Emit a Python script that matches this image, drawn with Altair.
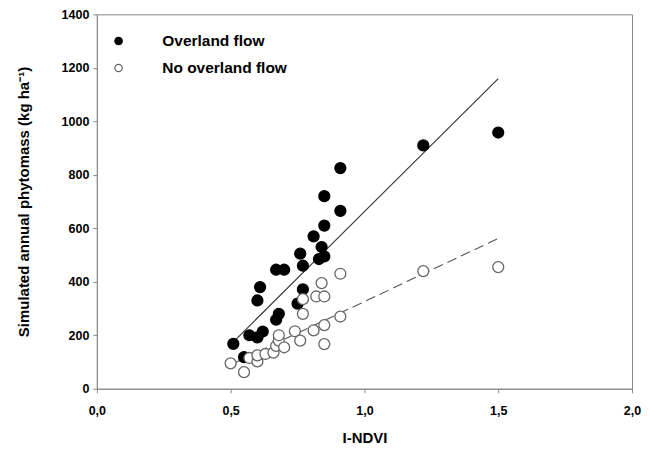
import altair as alt
import pandas as pd

over_x = [0.51, 0.55, 0.57, 0.60, 0.62, 0.60, 0.61, 0.67, 0.68, 0.67, 0.70, 0.75, 0.77,
          0.77, 0.76, 0.81, 0.83, 0.85, 0.84, 0.85, 0.85, 0.91, 0.91, 1.22, 1.50]
over_y = [168, 118, 200, 192, 214, 330, 380, 258, 280, 445, 445, 318, 372,
          460, 505, 570, 485, 495, 530, 610, 720, 665, 825, 910, 958]

none_x = [0.50, 0.55, 0.57, 0.60, 0.60, 0.63, 0.66, 0.67, 0.68, 0.68, 0.70, 0.74, 0.76,
          0.77, 0.77, 0.81, 0.85, 0.85, 0.82, 0.85, 0.84, 0.91, 0.91, 1.22, 1.50]
none_y = [95, 62, 115, 102, 125, 130, 135, 160, 180, 200, 155, 215, 180,
          280, 335, 218, 238, 167, 345, 345, 395, 270, 430, 440, 455]

# fitted regression lines (end points)
fit_x = [0.5, 1.5]
fit_over = [165, 1160]
fit_none = [90, 562]

groups = ["Overland flow", "No overland flow"]

df = pd.DataFrame({
    "x": over_x + none_x,
    "y": over_y + none_y,
    "group": [groups[0]] * len(over_x) + [groups[1]] * len(none_x),
})
fit_over_df = pd.DataFrame({"x": fit_x, "y": fit_over})
fit_none_df = pd.DataFrame({"x": fit_x, "y": fit_none})

font = "Liberation Sans"

xenc = alt.X("x:Q", scale=alt.Scale(domain=[0, 2], nice=False),
             axis=alt.Axis(values=[0, 0.5, 1.0, 1.5, 2.0], title="I-NDVI", labelFlush=False,
                           labelExpr="replace(format(datum.value, '.1f'), '.', ',')"))
yenc = alt.Y("y:Q", scale=alt.Scale(domain=[0, 1400], nice=False),
             axis=alt.Axis(values=list(range(0, 1401, 200)), format="d", labelFlush=False,
                           title="Simulated annual phytomass (kg ha\u207B\u00B9)"))

leg = alt.Legend(title=None, orient="none", legendX=14, legendY=19,
                 symbolSize=55, labelFontSize=15.5, labelFont=font,
                 labelFontWeight="bold", labelColor="black",
                 labelOffset=36, rowPadding=10, symbolStrokeWidth=1.2)

points = alt.Chart(df).mark_point(filled=True, size=120, strokeWidth=1.3, opacity=1,
                                  shape="circle").encode(
    x=xenc, y=yenc,
    fill=alt.Fill("group:N", scale=alt.Scale(domain=groups, range=["black", "white"]), legend=leg),
    stroke=alt.Stroke("group:N", scale=alt.Scale(domain=groups, range=["black", "#666666"]), legend=leg),
)

line_over = alt.Chart(fit_over_df).mark_line(strokeWidth=1.1, color="#333333").encode(
    x="x:Q", y="y:Q")
line_none = alt.Chart(fit_none_df).mark_line(strokeWidth=1.1, color="#555555",
                                             strokeDash=[10, 5]).encode(x="x:Q", y="y:Q")

chart = alt.layer(line_over, line_none, points).properties(
    width=536, height=375,
    autosize=alt.AutoSizeParams(type="none"),
    padding={"left": 89, "top": 6, "right": 10, "bottom": 56},
).configure_view(
    stroke="#888888", strokeWidth=1
).configure_axis(
    grid=False, domainColor="#888888", tickColor="#888888", tickSize=4,
    labelFont=font, labelFontWeight="bold", labelFontSize=12.5, labelColor="black",
    titleFont=font, titleFontWeight="bold", titleFontSize=15, titleColor="black",
).configure_axisX(labelPadding=12, titlePadding=13).configure_axisY(labelPadding=4, titlePadding=30)

chart.save("out.html", embed_options={"renderer": "svg", "actions": False})
